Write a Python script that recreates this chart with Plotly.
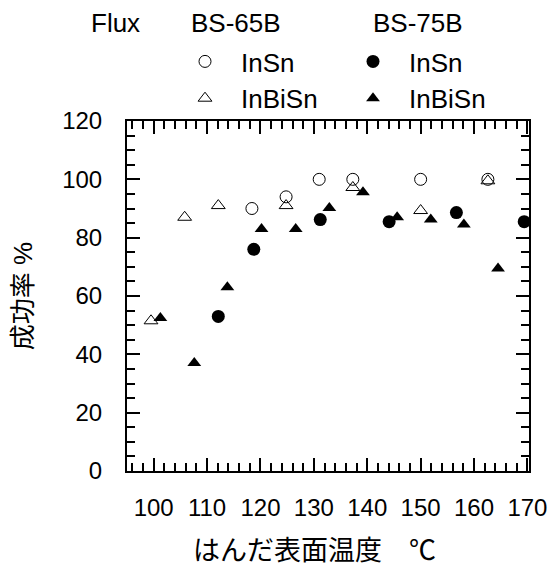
import plotly.graph_objects as go

# ---- data ----
x_65_insn = [118.4, 124.8, 131.0, 137.3, 150.0, 162.6]
y_65_insn = [90, 94, 100, 100, 100, 100]

x_65_inbisn = [99.5, 105.8, 112.1, 124.8, 137.3, 150.0, 162.6]
y_65_inbisn = [51.5, 87, 91, 91, 97.2, 89.3, 99.5]

x_75_insn = [112.1, 118.75, 131.2, 144.1, 156.7, 169.4]
y_75_insn = [53, 76, 86.2, 85.5, 88.6, 85.5]

x_75_inbisn = [101.25, 107.6, 113.8, 120.2, 126.6, 132.9, 139.2, 145.6, 151.9, 158.1, 164.5]
y_75_inbisn = [52.5, 37, 63, 83, 83, 90.2, 95.6, 87, 86.2, 84.5, 69.4]

x_ticks = [100, 110, 120, 130, 140, 150, 160, 170]
y_ticks = [0, 20, 40, 60, 80, 100, 120]

FONT = "Liberation Sans, Arial, Noto Sans CJK JP, sans-serif"

# plot area in pixels (for placing header texts)
L, R, T, B = 127, 529, 121, 471


def px2paper(px, py):
    return (px - L) / (R - L), (B - py) / (B - T)


fig = go.Figure()
fig.add_trace(go.Scatter(
    x=x_65_insn, y=y_65_insn, mode="markers", name="InSn", legend="legend",
    marker=dict(symbol="circle-open", size=12, color="black", line=dict(width=1))))
fig.add_trace(go.Scatter(
    x=x_65_inbisn, y=y_65_inbisn, mode="markers", name="InBiSn", legend="legend",
    marker=dict(symbol="triangle-up-open", size=12, color="black", line=dict(width=1))))
fig.add_trace(go.Scatter(
    x=x_75_insn, y=y_75_insn, mode="markers", name="InSn", legend="legend2",
    marker=dict(symbol="circle", size=13, color="black")))
fig.add_trace(go.Scatter(
    x=x_75_inbisn, y=y_75_inbisn, mode="markers", name="InBiSn", legend="legend2",
    marker=dict(symbol="triangle-up", size=12, color="black")))

axis_common = dict(
    showline=True, linecolor="black", linewidth=2, mirror="allticks",
    ticks="inside", ticklen=13, tickwidth=2, tickcolor="black",
    showgrid=False, zeroline=False,
    tickfont=dict(family=FONT, size=24, color="black"),
)

fig.update_xaxes(
    range=[95, 170.3], tickvals=x_ticks,
    minor=dict(dtick=2, ticks="inside", ticklen=8, tickwidth=2, tickcolor="black", showgrid=False),
    ticklabelstandoff=14,
    **axis_common)
fig.update_yaxes(
    range=[0, 120], tickvals=y_ticks,
    minor=dict(dtick=5, ticks="inside", ticklen=8, tickwidth=2, tickcolor="black", showgrid=False),
    ticklabelstandoff=18,
    title=dict(text="成功率 %", font=dict(family=FONT, size=26, color="black"), standoff=22),
    **axis_common)

leg_common = dict(font=dict(family=FONT, size=26, color="black"), bgcolor="rgba(0,0,0,0)",
                  xref="paper", yref="paper", yanchor="top", xanchor="left",
                  tracegroupgap=0, itemwidth=62)

header = [("Flux", 115, 23), ("BS-65B", 236, 23), ("BS-75B", 418, 23)]
anns = []
for text, px, py in header:
    ax, ay = px2paper(px, py)
    anns.append(dict(text=text, xref="paper", yref="paper", x=ax, y=ay,
                     xanchor="center", yanchor="middle", showarrow=False,
                     font=dict(family=FONT, size=26, color="black")))
# x axis title (centred as in the reference)
tx, ty = px2paper(314, 551)
anns.append(dict(text="はんだ表面温度　℃", xref="paper", yref="paper", x=tx, y=ty,
                 xanchor="center", yanchor="middle", showarrow=False, borderpad=0,
                 font=dict(family=FONT, size=27, color="black")))

l1x, l1y = px2paper(169, 38)
l2x, _ = px2paper(337, 38)

fig.update_layout(
    width=552, height=570,
    margin=dict(l=L, r=552 - R, t=T, b=570 - B, autoexpand=False),
    paper_bgcolor="white", plot_bgcolor="white",
    showlegend=True,
    legend=dict(x=l1x, y=l1y, **leg_common),
    legend2=dict(x=l2x, y=l1y, **leg_common),
    annotations=anns,
)

fig.write_html("out.html", config={"displayModeBar": False},
               post_script="document.body.style.margin='0';")
